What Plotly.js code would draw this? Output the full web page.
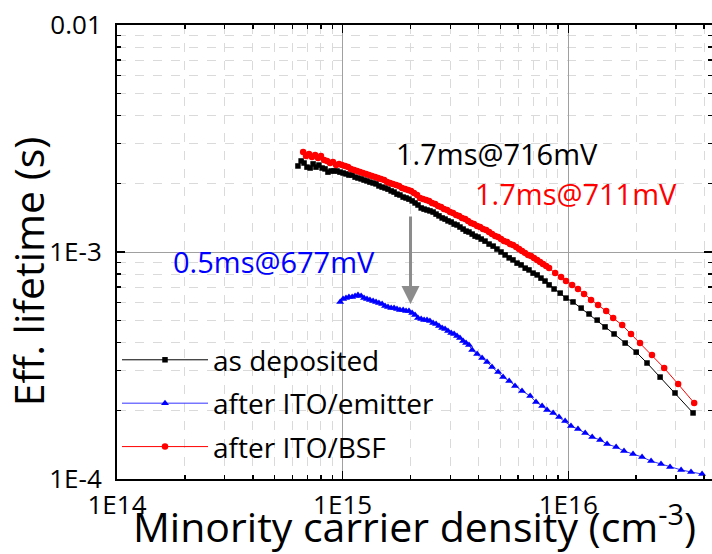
<!DOCTYPE html>
<html>
<head>
<meta charset="utf-8">
<script src="https://cdn.plot.ly/plotly-3.0.1.min.js"></script>
<style>html,body{margin:0;padding:0;background:#fff;}#chart{width:712px;height:554px;}</style>
</head>
<body>
<div id="chart"></div>
<script>
// Data, stored as log10 values
// density: log10(minority carrier density / cm^-3); lifetime: log10(effective lifetime / s)

// as deposited
const depositedDensityLog = [14.802,14.816,14.829,14.842,14.856,14.869,14.882,14.895,14.909,14.922,14.935,14.949,14.962,14.975,14.988,15.002,15.015,15.028,15.042,15.055,15.068,15.082,15.095,15.108,15.121,15.135,15.148,15.161,15.175,15.188,15.201,15.215,15.228,15.241,15.254,15.268,15.281,15.294,15.308,15.321,15.334,15.348,15.361,15.374,15.387,15.401,15.414,15.427,15.441,15.454,15.467,15.481,15.494,15.507,15.520,15.534,15.547,15.560,15.574,15.587,15.600,15.614,
  15.631,15.649,15.667,15.684,15.702,15.720,15.738,15.755,15.773,15.791,15.809,15.826,15.844,15.862,15.879,15.897,15.915,
  15.937,15.964,15.990,16.021,16.057,16.092,16.128,16.163,16.203,16.252,16.301,16.349,16.407,16.473,16.553];
const depositedLifetimeLog = [-2.621,-2.599,-2.608,-2.626,-2.630,-2.612,-2.626,-2.617,-2.630,-2.634,-2.648,-2.643,-2.643,-2.643,-2.648,-2.652,-2.656,-2.661,-2.661,-2.670,-2.674,-2.678,-2.683,-2.687,-2.692,-2.696,-2.700,-2.709,-2.714,-2.718,-2.723,-2.731,-2.736,-2.745,-2.749,-2.758,-2.762,-2.767,-2.775,-2.784,-2.793,-2.806,-2.811,-2.815,-2.819,-2.824,-2.833,-2.841,-2.850,-2.855,-2.863,-2.868,-2.877,-2.881,-2.890,-2.899,-2.908,-2.912,-2.921,-2.930,-2.934,-2.943,
  -2.952,-2.965,-2.974,-2.987,-3.000,-3.013,-3.026,-3.035,-3.049,-3.057,-3.071,-3.079,-3.093,-3.101,-3.115,-3.128,-3.145,
  -3.163,-3.181,-3.203,-3.220,-3.247,-3.273,-3.300,-3.330,-3.361,-3.401,-3.441,-3.489,-3.551,-3.621,-3.709];

// after ITO/emitter
const emitterDensityLog = [14.989,15.002,15.015,15.028,15.042,15.055,15.068,15.082,15.095,15.108,15.121,15.135,15.148,15.161,15.175,15.188,15.201,15.215,15.228,15.241,15.254,15.268,15.281,15.294,15.308,15.321,15.334,15.348,15.361,15.374,15.387,15.401,15.414,15.427,15.441,15.454,15.467,15.481,15.494,15.507,15.520,15.534,15.547,15.560,
  15.574,15.596,15.618,15.640,15.662,15.689,15.711,15.738,15.764,15.795,15.831,15.857,15.884,15.906,15.933,15.959,15.986,16.012,16.043,16.075,16.106,16.141,16.172,16.212,16.247,16.287,16.327,16.367,16.411,16.451,16.500,16.544,16.593];
const emitterLifetimeLog = [-3.220,-3.207,-3.203,-3.198,-3.198,-3.194,-3.189,-3.194,-3.203,-3.207,-3.212,-3.216,-3.220,-3.225,-3.229,-3.238,-3.242,-3.247,-3.247,-3.251,-3.256,-3.256,-3.260,-3.260,-3.269,-3.278,-3.291,-3.295,-3.300,-3.300,-3.304,-3.313,-3.317,-3.326,-3.335,-3.339,-3.348,-3.357,-3.361,-3.370,-3.379,-3.392,-3.401,-3.410,
  -3.432,-3.449,-3.467,-3.485,-3.507,-3.529,-3.551,-3.568,-3.590,-3.612,-3.634,-3.661,-3.678,-3.696,-3.709,-3.727,-3.745,-3.767,-3.780,-3.797,-3.815,-3.828,-3.846,-3.859,-3.877,-3.890,-3.903,-3.921,-3.934,-3.947,-3.960,-3.969,-3.978];

// after ITO/BSF
const bsfDensityLog = [14.825,14.838,14.851,14.864,14.878,14.891,14.904,14.918,14.931,14.944,14.957,14.971,14.984,14.997,15.011,15.024,15.037,15.051,15.064,15.077,15.090,15.104,15.117,15.130,15.144,15.157,15.170,15.184,15.197,15.210,15.223,15.237,15.250,15.263,15.277,15.290,15.303,15.316,15.330,15.343,15.356,15.370,15.383,15.396,15.410,15.423,15.436,15.449,15.463,15.476,15.489,15.503,15.516,15.529,15.543,15.556,15.569,15.582,15.596,15.609,15.622,15.636,15.649,15.662,15.676,15.689,15.702,15.715,15.729,15.742,15.755,15.769,15.782,15.795,15.808,15.822,15.835,15.848,15.862,15.875,15.888,15.902,15.915,
  15.942,15.968,15.990,16.017,16.043,16.070,16.101,16.132,16.168,16.199,16.239,16.278,16.318,16.371,16.425,16.487,16.558];
const bsfLifetimeLog = [-2.560,-2.577,-2.568,-2.582,-2.573,-2.586,-2.577,-2.595,-2.599,-2.608,-2.604,-2.617,-2.612,-2.617,-2.621,-2.626,-2.634,-2.639,-2.643,-2.648,-2.652,-2.656,-2.661,-2.665,-2.670,-2.674,-2.678,-2.683,-2.692,-2.696,-2.700,-2.705,-2.709,-2.718,-2.723,-2.727,-2.731,-2.740,-2.749,-2.762,-2.767,-2.771,-2.775,-2.784,-2.789,-2.797,-2.802,-2.811,-2.815,-2.824,-2.828,-2.837,-2.841,-2.850,-2.855,-2.863,-2.872,-2.877,-2.886,-2.890,-2.899,-2.903,-2.912,-2.921,-2.930,-2.934,-2.943,-2.952,-2.956,-2.965,-2.969,-2.978,-2.987,-2.996,-3.004,-3.013,-3.018,-3.026,-3.035,-3.044,-3.053,-3.062,-3.071,
  -3.093,-3.110,-3.128,-3.145,-3.163,-3.185,-3.212,-3.234,-3.260,-3.291,-3.322,-3.361,-3.401,-3.454,-3.511,-3.582,-3.665];

const seriesNames = ['as deposited', 'after ITO/emitter', 'after ITO/BSF'];
const xTickVals = [1e14, 1e15, 1e16];
const xTickText = ['1E14', '1E15', '1E16'];
const yTickVals = [1e-4, 1e-3, 1e-2];
const yTickText = ['1E-4', '1E-3', '0.01'];
const annotationTexts = ['1.7ms@716mV', '1.7ms@711mV', '0.5ms@677mV'];

const pow10 = a => a.map(v => Math.pow(10, v));

function minorVals(lo, hi) {
  const out = [];
  for (let e = lo; e <= hi; e++) for (let k = 2; k <= 9; k++) out.push(k * Math.pow(10, e));
  return out;
}

const FONT = '"Open Sans", Lato, sans-serif';

const traces = [
  {x: pow10(depositedDensityLog), y: pow10(depositedLifetimeLog), name: seriesNames[0], legendgroup: 'g1', mode: 'lines+markers',
   line: {color: '#000000', width: 1}, marker: {symbol: 'square', size: 5.5, color: '#000000'}},
  {x: pow10(emitterDensityLog), y: pow10(emitterLifetimeLog), name: seriesNames[1], legendgroup: 'g2', mode: 'lines+markers',
   line: {color: '#3333ff', width: 1}, marker: {symbol: 'triangle-up', size: 7, color: '#0000ff'}},
  {x: pow10(bsfDensityLog), y: pow10(bsfLifetimeLog), name: seriesNames[2], legendgroup: 'g3', mode: 'lines+markers',
   line: {color: '#ff0000', width: 1}, marker: {symbol: 'circle', size: 6.5, color: '#ff0000'}}
];

const axisCommon = {
  type: 'log', showline: true, linecolor: '#000', linewidth: 2, mirror: 'allticks',
  ticks: 'inside', ticklen: 8, tickwidth: 1.5, tickcolor: '#000',
  showgrid: true, gridcolor: '#a0a0a0', gridwidth: 1, zeroline: false,
  tickfont: {family: FONT, size: 26, color: '#000'}
};

const layout = {
  width: 712, height: 554,
  margin: {l: 117, r: 0, t: 25, b: 75, pad: 0},
  paper_bgcolor: '#fff', plot_bgcolor: '#fff',
  showlegend: true,
  font: {family: FONT, color: '#000'},
  xaxis: Object.assign({}, axisCommon, {
    range: [14, 16.637], tickmode: 'array', tickvals: xTickVals, ticktext: xTickText, ticklabelstandoff: 2,
    title: {text: '\u00a0Minority carrier density (cm<sup>-3</sup>)', font: {family: FONT, size: 41, color: '#000'}, standoff: 11},
    minor: {tickmode: 'array', tickvals: minorVals(14, 16), ticks: 'inside', ticklen: 4, tickwidth: 1.5, tickcolor: '#000',
            showgrid: true, gridcolor: '#dadada', griddash: 'dash', gridwidth: 1}
  }),
  yaxis: Object.assign({}, axisCommon, {
    range: [-4, -2], tickmode: 'array', tickvals: yTickVals, ticktext: yTickText, ticklabelstandoff: 8,
    title: {text: 'Eff. lifetime (s)\u00a0\u00a0\u00a0\u2009\u200b', font: {family: FONT, size: 41, color: '#000'}, standoff: 4},
    minor: {tickmode: 'array', tickvals: minorVals(-4, -3), ticks: 'inside', ticklen: 4, tickwidth: 1.5, tickcolor: '#000',
            showgrid: true, gridcolor: '#dadada', griddash: 'dash', gridwidth: 1}
  }),
  legend: {x: 0.0, y: 0.317, xanchor: 'left', yanchor: 'top', bgcolor: 'rgba(0,0,0,0)',
           font: {family: FONT, size: 28, color: '#000'}, itemwidth: 86, tracegroupgap: 4},
  annotations: [
    {xref: 'paper', yref: 'paper', x: 0.639, y: 0.718, xanchor: 'center', yanchor: 'middle', text: annotationTexts[0], showarrow: false,
     font: {family: FONT, size: 29, color: '#000000'}},
    {xref: 'paper', yref: 'paper', x: 0.771, y: 0.628, xanchor: 'center', yanchor: 'middle', text: annotationTexts[1], showarrow: false,
     font: {family: FONT, size: 29, color: '#ff0000'}},
    {xref: 'paper', yref: 'paper', x: 0.264, y: 0.478, xanchor: 'center', yanchor: 'middle', text: annotationTexts[2], showarrow: false,
     font: {family: FONT, size: 29, color: '#0000ff'}},
    {xref: 'paper', yref: 'paper', x: 0.4933, y: 0.3855, text: '', showarrow: true, ax: 0, ay: -89,
     arrowhead: 2, arrowsize: 1.2, arrowwidth: 3, arrowcolor: '#8c8c8c'}
  ]
};

Plotly.newPlot('chart', traces, layout, {displayModeBar: false, staticPlot: true});
</script>
</body>
</html>
